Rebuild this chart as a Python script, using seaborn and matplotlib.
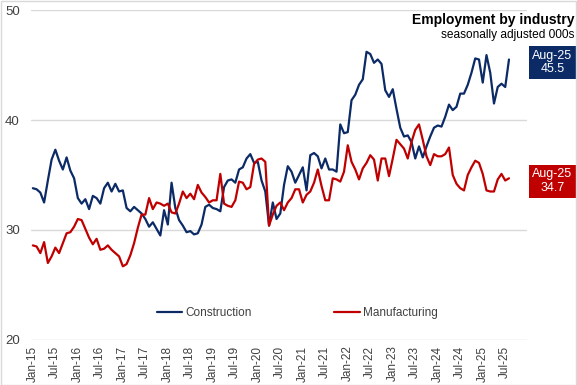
import pandas as pd
import numpy as np
import matplotlib.pyplot as plt
import seaborn as sns
from matplotlib.patches import Rectangle

# Données (milliers, CVS), mensuelles de Jan-15 à Aug-25
months = pd.date_range("2015-01-01", "2025-08-01", freq="MS")

construction = [
    33.8, 33.7, 33.4, 32.5, 34.5, 36.4, 37.3, 36.3, 35.5, 36.6, 35.4, 34.7,
    32.9, 32.4, 32.8, 31.9, 33.1, 32.9, 32.4, 33.8, 34.3, 33.5, 34.2, 33.5,
    33.6, 32.0, 31.7, 32.1, 31.8, 31.5, 31.0, 30.3, 30.7, 30.1, 29.5, 31.8,
    30.5, 34.3, 32.0, 30.9, 30.4, 29.8, 29.9, 29.6, 29.7, 30.5, 32.1, 32.3,
    32.0, 31.9, 31.7, 33.9, 34.5, 34.6, 34.3, 35.5, 35.7, 36.5, 36.9, 36.1,
    36.2, 34.5, 33.5, 30.4, 32.5, 31.0, 31.5, 34.1, 35.8, 35.3, 34.3, 35.0,
    35.7, 33.6, 36.8, 37.0, 36.7, 35.6, 36.5, 35.5, 35.5, 35.3, 39.6, 38.8,
    38.9, 41.8, 42.3, 43.2, 43.7, 46.2, 46.0, 45.2, 45.5, 45.1, 42.7, 42.1,
    42.8, 41.0, 39.3, 38.5, 38.6, 38.0, 36.5, 37.6, 36.6, 37.6, 38.5, 39.3,
    39.5, 39.4, 40.3, 41.4, 40.9, 41.2, 42.4, 42.4, 43.2, 44.3, 45.6, 45.5,
    43.4, 45.9, 44.3, 41.5, 43.0, 43.3, 43.0, 45.5,
]

manufacturing = [
    28.6, 28.5, 27.9, 28.9, 27.0, 27.6, 28.4, 27.9, 28.8, 29.7, 29.8, 30.3,
    31.0, 30.9, 30.1, 29.3, 28.7, 29.2, 28.2, 28.3, 28.6, 28.2, 27.9, 27.6,
    26.7, 26.9, 27.7, 28.8, 30.2, 31.4, 31.4, 32.9, 31.9, 32.5, 32.4, 32.2,
    32.4, 31.6, 31.5, 32.4, 33.5, 32.9, 33.3, 32.8, 34.1, 33.4, 33.0, 32.5,
    32.7, 32.7, 35.1, 32.4, 32.2, 32.1, 32.7, 34.4, 34.3, 33.7, 33.9, 36.0,
    36.4, 36.5, 36.2, 30.4, 31.4, 32.2, 32.5, 31.8, 32.5, 32.9, 33.7, 33.7,
    32.5, 33.2, 33.5, 34.3, 35.5, 34.0, 32.7, 32.7, 34.7, 34.6, 34.4, 35.3,
    37.7, 36.2, 35.5, 34.6, 35.6, 36.1, 36.8, 36.4, 34.5, 36.5, 36.5, 34.9,
    36.5, 38.2, 37.8, 37.4, 36.5, 38.0, 39.1, 39.6, 38.2, 36.7, 35.9, 36.9,
    36.7, 36.7, 36.9, 37.5, 35.0, 34.2, 33.8, 33.6, 35.0, 35.7, 36.3, 36.1,
    35.1, 33.6, 33.5, 33.5, 34.6, 35.1, 34.5, 34.7,
]

series_names = ["Construction", "Manufacturing"]
colors = ["#0b2a66", "#c00000"]

df = pd.DataFrame({"idx": np.arange(len(months)),
                   "Construction": construction,
                   "Manufacturing": manufacturing})
df_long = df.melt(id_vars="idx", var_name="serie", value_name="valeur")

sns.set_style("white")
plt.rcParams['font.family'] = ['Liberation Sans', 'DejaVu Sans']

fig = plt.figure(figsize=(5.77, 3.85), dpi=100)
ax = fig.add_axes([0.0537, 0.1169, 0.8596, 0.8571])

sns.lineplot(data=df_long, x="idx", y="valeur", hue="serie",
             palette=dict(zip(series_names, colors)), linewidth=1.6, ax=ax)

ax.set_ylim(20, 50)
ax.set_yticks([20, 30, 40, 50])
ax.set_xlim(-0.5, 131.8)
ax.grid(axis='y', color='#d9d9d9', linewidth=1)
ax.set_axisbelow(True)

ticks = list(range(0, len(months), 6))
ax.set_xticks(ticks)
ax.set_xticklabels([months[i].strftime("%b-%y") for i in ticks], rotation=90,
                   fontsize=8.5, color='#404040')
ax.tick_params(axis='y', labelsize=9.5, labelcolor='#404040', length=0, pad=8)
ax.tick_params(axis='x', length=0, pad=4)
ax.set_xlabel('')
ax.set_ylabel('')
ax.spines[['top', 'right', 'bottom', 'left']].set_visible(False)

leg = ax.legend(loc='lower center', bbox_to_anchor=(0.537, 0.03), ncol=2,
                frameon=False, fontsize=8.5, handlelength=2.2, handletextpad=0.25,
                columnspacing=7.0)
for t in leg.get_texts():
    t.set_color('#404040')

# Titre
fig.text(0.995, 0.948, "Employment by industry", ha='right', va='center',
         fontsize=10, fontweight='bold', color='black')
fig.text(0.995, 0.909, "seasonally adjusted 000s", ha='right', va='center',
         fontsize=8.6, color='black')

# Étiquettes dernière valeur
last = months[-1].strftime("%b-%y")
for vals, col in zip([construction, manufacturing], colors):
    ax.annotate(f"{last}\n{vals[-1]:.1f}", xy=(1.0, vals[-1]),
                xycoords=('axes fraction', 'data'), xytext=(18.4, -2),
                textcoords='offset points', ha='center', va='center',
                fontsize=9, color='white', linespacing=1.15,
                bbox=dict(boxstyle='square,pad=0.3', fc=col, ec='none'),
                annotation_clip=False)

fig.patches.append(Rectangle((0.001, 0.001), 0.997, 0.997, transform=fig.transFigure,
                             fill=False, edgecolor='#d9d9d9', linewidth=1))

plt.savefig('out.png', dpi=100)
